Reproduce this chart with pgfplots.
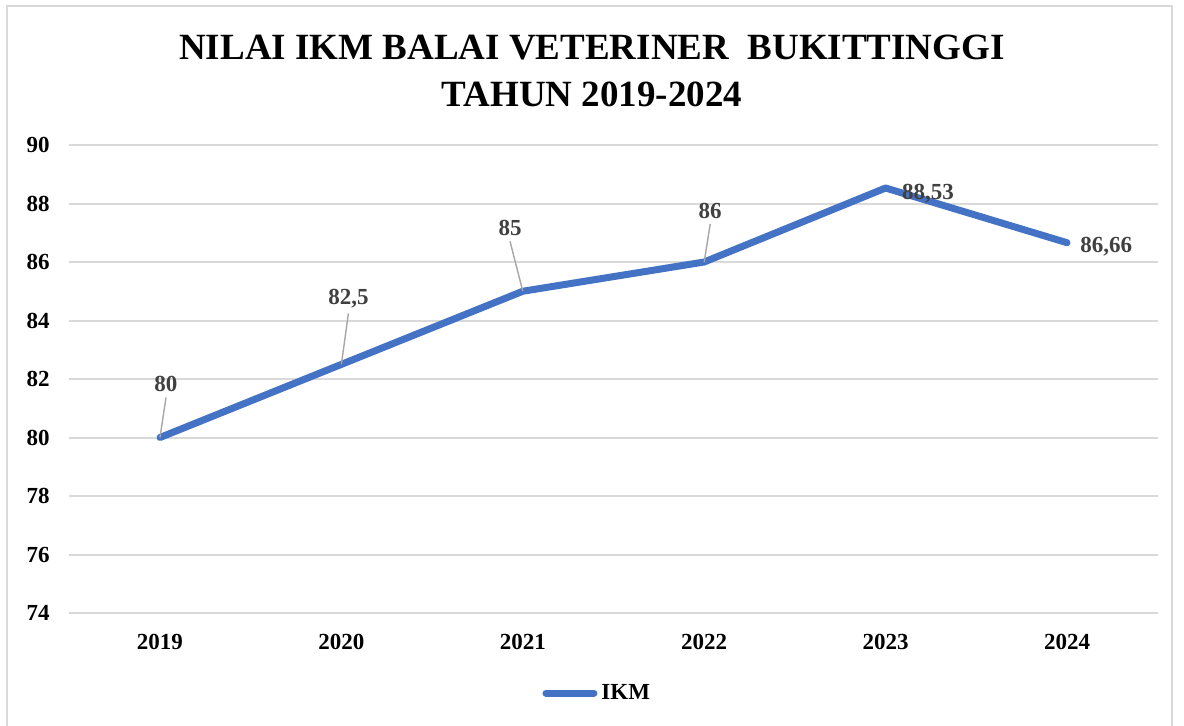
\documentclass[border=0pt]{standalone}
\usepackage{fontspec}
\setmainfont{Liberation Serif}
\usepackage{pgfplots}
\pgfplotsset{compat=1.18}
\definecolor{ikmblue}{HTML}{4472C4}
\definecolor{gridgray}{HTML}{D9D9D9}
\definecolor{lblgray}{HTML}{404040}
\definecolor{leadgray}{HTML}{A6A6A6}
\newcommand{\tickfont}{\fontsize{11.5}{13}\selectfont\bfseries}
\begin{document}
\begin{tikzpicture}
\useasboundingbox (-34.65pt,-56pt) rectangle (557.35pt,306.5pt);
\draw[gridgray, line width=1.2pt] (-31.15pt,-80pt) rectangle (551.35pt,303.5pt);
\node[font=\fontsize{18.5}{20}\selectfont\bfseries, inner sep=0pt] at (261.35pt,282.5pt) {NILAI IKM BALAI VETERINER\ \ BUKITTINGGI};
\node[font=\fontsize{18.5}{20}\selectfont\bfseries, inner sep=0pt] at (261.35pt,259.5pt) {TAHUN 2019-2024};
\begin{axis}[at={(0pt,0pt)}, anchor=south west, scale only axis,
  width=544.2pt, height=234pt,
  xmin=-0.5, xmax=5.5, ymin=74, ymax=90,
  ytick={74,76,78,80,82,84,86,88,90},
  xtick={0,1,2,3,4,5},
  xticklabels={2019,2020,2021,2022,2023,2024},
  axis line style={draw=none},
  major tick length=0pt,
  ymajorgrids, grid style={gridgray, line width=1pt},
  tick label style={font=\tickfont, text=black},
  /pgf/number format/assume math mode=true,
  yticklabel style={anchor=east, inner sep=0pt, xshift=-9.6pt},
  xticklabel style={anchor=north, inner sep=0pt, yshift=-10.5pt},
  legend style={draw=none, fill=none, at={(0.486,-0.171)}, anchor=center, font=\tickfont},
  legend image code/.code={\draw[#1, line width=3.5pt, line cap=round] (0pt,0pt) -- (24pt,0pt);},
  clip=false,
]
\addplot[ikmblue, line width=3.5pt, line join=round, line cap=round]
  coordinates {(0,80) (1,82.5) (2,85) (3,86) (4,88.53) (5,86.66)};
\addlegendentry{IKM}
\draw[leadgray, line width=0.7pt] (axis cs:0,80) -- ++(3pt,20pt) node[anchor=south, inner sep=2.5pt, text=lblgray, font=\tickfont] {80};
\draw[leadgray, line width=0.7pt] (axis cs:1,82.5) -- ++(3.5pt,25.5pt) node[anchor=south, inner sep=2.5pt, text=lblgray, font=\tickfont] {82,5};
\draw[leadgray, line width=0.7pt] (axis cs:2,85) -- ++(-6.4pt,25pt) node[anchor=south, inner sep=2.5pt, text=lblgray, font=\tickfont] {85};
\draw[leadgray, line width=0.7pt] (axis cs:3,86) -- ++(3pt,19pt) node[anchor=south, inner sep=2.5pt, text=lblgray, font=\tickfont] {86};
\node[anchor=west, inner sep=0pt, text=lblgray, font=\tickfont] at ([shift={(8pt,-2.75pt)}]axis cs:4,88.53) {88,53};
\node[anchor=west, inner sep=0pt, text=lblgray, font=\tickfont] at ([shift={(6.5pt,-2pt)}]axis cs:5,86.66) {86,66};
\end{axis}
\end{tikzpicture}
\end{document}
